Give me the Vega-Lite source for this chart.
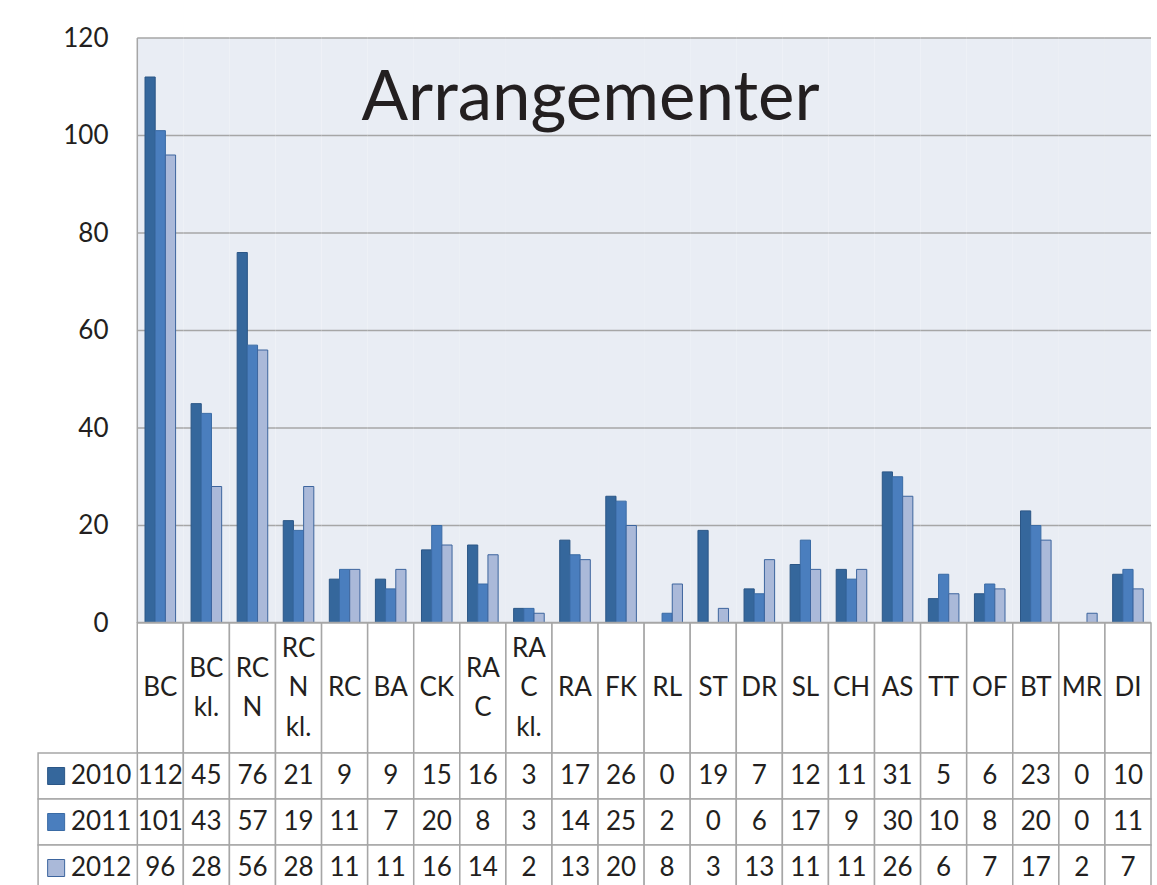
{
  "$schema": "https://vega.github.io/schema/vega-lite/v6.json",
  "padding": {"left": 37, "top": 25, "right": 0, "bottom": 0},
  "background": "white",
  "spacing": 0,
  "bounds": "flush",
  "config": {"view": {"stroke": null}, "font": "Lato"},
  "datasets": {
    "years": [{"year": "2010"}, {"year": "2011"}, {"year": "2012"}],
    "cats": [
      {"cat": "BC"}, {"cat": "BC kl."}, {"cat": "RC N"}, {"cat": "RC N kl."}, {"cat": "RC"}, {"cat": "BA"},
      {"cat": "CK"}, {"cat": "RA C"}, {"cat": "RA C kl."}, {"cat": "RA"}, {"cat": "FK"}, {"cat": "RL"},
      {"cat": "ST"}, {"cat": "DR"}, {"cat": "SL"}, {"cat": "CH"}, {"cat": "AS"}, {"cat": "TT"},
      {"cat": "OF"}, {"cat": "BT"}, {"cat": "MR"}, {"cat": "DI"}
    ],
    "vals": [
      {"cat": "BC", "year": "2010", "value": 112}, {"cat": "BC", "year": "2011", "value": 101}, {"cat": "BC", "year": "2012", "value": 96},
      {"cat": "BC kl.", "year": "2010", "value": 45}, {"cat": "BC kl.", "year": "2011", "value": 43}, {"cat": "BC kl.", "year": "2012", "value": 28},
      {"cat": "RC N", "year": "2010", "value": 76}, {"cat": "RC N", "year": "2011", "value": 57}, {"cat": "RC N", "year": "2012", "value": 56},
      {"cat": "RC N kl.", "year": "2010", "value": 21}, {"cat": "RC N kl.", "year": "2011", "value": 19}, {"cat": "RC N kl.", "year": "2012", "value": 28},
      {"cat": "RC", "year": "2010", "value": 9}, {"cat": "RC", "year": "2011", "value": 11}, {"cat": "RC", "year": "2012", "value": 11},
      {"cat": "BA", "year": "2010", "value": 9}, {"cat": "BA", "year": "2011", "value": 7}, {"cat": "BA", "year": "2012", "value": 11},
      {"cat": "CK", "year": "2010", "value": 15}, {"cat": "CK", "year": "2011", "value": 20}, {"cat": "CK", "year": "2012", "value": 16},
      {"cat": "RA C", "year": "2010", "value": 16}, {"cat": "RA C", "year": "2011", "value": 8}, {"cat": "RA C", "year": "2012", "value": 14},
      {"cat": "RA C kl.", "year": "2010", "value": 3}, {"cat": "RA C kl.", "year": "2011", "value": 3}, {"cat": "RA C kl.", "year": "2012", "value": 2},
      {"cat": "RA", "year": "2010", "value": 17}, {"cat": "RA", "year": "2011", "value": 14}, {"cat": "RA", "year": "2012", "value": 13},
      {"cat": "FK", "year": "2010", "value": 26}, {"cat": "FK", "year": "2011", "value": 25}, {"cat": "FK", "year": "2012", "value": 20},
      {"cat": "RL", "year": "2010", "value": 0}, {"cat": "RL", "year": "2011", "value": 2}, {"cat": "RL", "year": "2012", "value": 8},
      {"cat": "ST", "year": "2010", "value": 19}, {"cat": "ST", "year": "2011", "value": 0}, {"cat": "ST", "year": "2012", "value": 3},
      {"cat": "DR", "year": "2010", "value": 7}, {"cat": "DR", "year": "2011", "value": 6}, {"cat": "DR", "year": "2012", "value": 13},
      {"cat": "SL", "year": "2010", "value": 12}, {"cat": "SL", "year": "2011", "value": 17}, {"cat": "SL", "year": "2012", "value": 11},
      {"cat": "CH", "year": "2010", "value": 11}, {"cat": "CH", "year": "2011", "value": 9}, {"cat": "CH", "year": "2012", "value": 11},
      {"cat": "AS", "year": "2010", "value": 31}, {"cat": "AS", "year": "2011", "value": 30}, {"cat": "AS", "year": "2012", "value": 26},
      {"cat": "TT", "year": "2010", "value": 5}, {"cat": "TT", "year": "2011", "value": 10}, {"cat": "TT", "year": "2012", "value": 6},
      {"cat": "OF", "year": "2010", "value": 6}, {"cat": "OF", "year": "2011", "value": 8}, {"cat": "OF", "year": "2012", "value": 7},
      {"cat": "BT", "year": "2010", "value": 23}, {"cat": "BT", "year": "2011", "value": 20}, {"cat": "BT", "year": "2012", "value": 17},
      {"cat": "MR", "year": "2010", "value": 0}, {"cat": "MR", "year": "2011", "value": 0}, {"cat": "MR", "year": "2012", "value": 2},
      {"cat": "DI", "year": "2010", "value": 10}, {"cat": "DI", "year": "2011", "value": 11}, {"cat": "DI", "year": "2012", "value": 7}
    ]
  },
  "vconcat": [
    {
      "width": 1113,
      "height": 585,
      "title": {"text": "Arrangementer", "fontSize": 69, "font": "Lato", "fontWeight": "normal", "color": "#231f20", "anchor": "middle", "frame": "group", "offset": -164, "baseline": "alphabetic", "dx": -4},
      "layer": [
        {
          "data": {"name": "cats"},
          "mark": {"type": "rect", "fill": "#e9edf4"},
          "encoding": {
            "x": {"field": "cat", "type": "nominal", "axis": null,
                  "scale": {"domain": ["_a", "_b", "BC", "BC kl.", "RC N", "RC N kl.", "RC", "BA", "CK", "RA C", "RA C kl.", "RA", "FK", "RL", "ST", "DR", "SL", "CH", "AS", "TT", "OF", "BT", "MR", "DI"], "paddingInner": 0, "paddingOuter": 0.077, "align": 1}},
            "y": {"datum": 0, "type": "quantitative", "scale": {"domain": [0, 120], "nice": false}},
            "y2": {"datum": 120}
          }
        },
        {"data": {"name": "cats"}, "mark": {"type": "rect", "fill": null, "stroke": "#a6a6a6", "strokeWidth": 1.5}, "encoding": {"x": {"field": "cat", "type": "nominal"}, "y": {"datum": 20, "type": "quantitative"}, "y2": {"datum": 20}}},
        {"data": {"name": "cats"}, "mark": {"type": "rect", "fill": null, "stroke": "#a6a6a6", "strokeWidth": 1.5}, "encoding": {"x": {"field": "cat", "type": "nominal"}, "y": {"datum": 40, "type": "quantitative"}, "y2": {"datum": 40}}},
        {"data": {"name": "cats"}, "mark": {"type": "rect", "fill": null, "stroke": "#a6a6a6", "strokeWidth": 1.5}, "encoding": {"x": {"field": "cat", "type": "nominal"}, "y": {"datum": 60, "type": "quantitative"}, "y2": {"datum": 60}}},
        {"data": {"name": "cats"}, "mark": {"type": "rect", "fill": null, "stroke": "#a6a6a6", "strokeWidth": 1.5}, "encoding": {"x": {"field": "cat", "type": "nominal"}, "y": {"datum": 80, "type": "quantitative"}, "y2": {"datum": 80}}},
        {"data": {"name": "cats"}, "mark": {"type": "rect", "fill": null, "stroke": "#a6a6a6", "strokeWidth": 1.5}, "encoding": {"x": {"field": "cat", "type": "nominal"}, "y": {"datum": 100, "type": "quantitative"}, "y2": {"datum": 100}}},
        {"data": {"name": "cats"}, "mark": {"type": "rect", "fill": null, "stroke": "#a6a6a6", "strokeWidth": 1.5}, "encoding": {"x": {"field": "cat", "type": "nominal"}, "y": {"datum": 120, "type": "quantitative"}, "y2": {"datum": 120}}},
        {
          "data": {"name": "vals"},
          "mark": {"type": "bar", "strokeWidth": 1},
          "encoding": {
            "x": {"field": "cat", "type": "nominal"},
            "xOffset": {"field": "year", "type": "nominal", "scale": {"domain": ["2010", "2011", "2012"], "paddingInner": 0, "paddingOuter": 0.76}},
            "y": {"field": "value", "type": "quantitative",
                  "axis": {"values": [0, 20, 40, 60, 80, 100, 120], "grid": false, "ticks": false, "domain": false, "labelPadding": 0, "offset": -70, "labelFontSize": 26, "labelFont": "Lato", "labelColor": "#231f20", "title": null}},
            "fill": {"field": "year", "type": "nominal", "scale": {"domain": ["2010", "2011", "2012"], "range": ["#35679c", "#4a7ebe", "#aab9d9"]}, "legend": null},
            "stroke": {"field": "year", "type": "nominal", "scale": {"domain": ["2010", "2011", "2012"], "range": ["#2b5686", "#3a6ba5", "#3d659e"]}, "legend": null}
          }
        },
        {"data": {"name": "cats"}, "mark": {"type": "rect", "fill": null, "stroke": "#a6a6a6", "strokeWidth": 2.5}, "encoding": {"x": {"field": "cat", "type": "nominal"}, "y": {"datum": 0, "type": "quantitative"}, "y2": {"datum": 0}}},
        {
          "data": {"name": "years"},
          "transform": [{"filter": "datum.year == '2010'"}],
          "mark": {"type": "rule", "color": "#a6a6a6", "strokeWidth": 1.5, "xOffset": -23},
          "encoding": {"x": {"datum": "BC", "type": "nominal"}, "y": {"datum": 0, "type": "quantitative"}, "y2": {"datum": 120}}
        }
      ]
    },
    {
      "width": 1113,
      "height": 130,
      "data": {"name": "cats"},
      "layer": [
        {
          "mark": {"type": "rect", "fill": "white", "stroke": "#a6a6a6", "strokeWidth": 1.5},
          "encoding": {
            "x": {"field": "cat", "type": "nominal", "axis": null,
                  "scale": {"domain": ["_a", "_b", "BC", "BC kl.", "RC N", "RC N kl.", "RC", "BA", "CK", "RA C", "RA C kl.", "RA", "FK", "RL", "ST", "DR", "SL", "CH", "AS", "TT", "OF", "BT", "MR", "DI"], "paddingInner": 0, "paddingOuter": 0.077, "align": 1}}
          }
        },
        {
          "transform": [{"filter": "length(split(datum.cat, ' ')) == 1"}],
          "mark": {"type": "text", "fontSize": 26, "font": "Lato", "lineBreak": " ", "lineHeight": 39.5, "color": "#231f20", "baseline": "middle"},
          "encoding": {"x": {"field": "cat", "type": "nominal"}, "text": {"field": "cat", "type": "nominal"}}
        },
        {
          "transform": [{"filter": "length(split(datum.cat, ' ')) == 2"}],
          "mark": {"type": "text", "fontSize": 26, "font": "Lato", "lineBreak": " ", "lineHeight": 39.5, "color": "#231f20", "baseline": "middle", "dy": -19.5},
          "encoding": {"x": {"field": "cat", "type": "nominal"}, "text": {"field": "cat", "type": "nominal"}}
        },
        {
          "transform": [{"filter": "length(split(datum.cat, ' ')) == 3"}],
          "mark": {"type": "text", "fontSize": 26, "font": "Lato", "lineBreak": " ", "lineHeight": 39.5, "color": "#231f20", "baseline": "middle", "dy": -39.5},
          "encoding": {"x": {"field": "cat", "type": "nominal"}, "text": {"field": "cat", "type": "nominal"}}
        }
      ]
    },
    {
      "width": 1113,
      "height": 138,
      "layer": [
        {
          "data": {"name": "vals"},
          "mark": {"type": "rect", "fill": "white", "stroke": "#a6a6a6", "strokeWidth": 1.5},
          "encoding": {
            "x": {"field": "cat", "type": "nominal", "axis": null,
                  "scale": {"domain": ["_a", "_b", "BC", "BC kl.", "RC N", "RC N kl.", "RC", "BA", "CK", "RA C", "RA C kl.", "RA", "FK", "RL", "ST", "DR", "SL", "CH", "AS", "TT", "OF", "BT", "MR", "DI"], "paddingInner": 0, "paddingOuter": 0.077, "align": 1}},
            "y": {"field": "year", "type": "nominal", "axis": null, "scale": {"domain": ["2010", "2011", "2012"], "paddingInner": 0, "paddingOuter": 0}}
          }
        },
        {
          "data": {"name": "years"},
          "mark": {"type": "rect", "fill": "white", "stroke": "#a6a6a6", "strokeWidth": 1.5, "width": {"band": 2.154}, "xOffset": -26.5},
          "encoding": {
            "x": {"datum": "_b", "type": "nominal"},
            "y": {"field": "year", "type": "nominal"}
          }
        },
        {
          "data": {"name": "vals"},
          "mark": {"type": "text", "fontSize": 26, "font": "Lato", "color": "#231f20", "baseline": "middle"},
          "encoding": {
            "x": {"field": "cat", "type": "nominal"},
            "y": {"field": "year", "type": "nominal"},
            "text": {"field": "value", "type": "quantitative"}
          }
        },
        {
          "data": {"name": "years"},
          "mark": {"type": "point", "shape": "square", "filled": true, "size": 289, "opacity": 1, "strokeWidth": 1, "xOffset": -12},
          "encoding": {
            "x": {"datum": "_a", "type": "nominal"},
            "y": {"field": "year", "type": "nominal"},
            "fill": {"field": "year", "type": "nominal", "legend": null},
            "stroke": {"field": "year", "type": "nominal", "legend": null}
          }
        },
        {
          "data": {"name": "years"},
          "mark": {"type": "text", "fontSize": 26, "font": "Lato", "align": "right", "dx": 17, "color": "#231f20", "baseline": "middle"},
          "encoding": {
            "x": {"datum": "_b", "type": "nominal"},
            "y": {"field": "year", "type": "nominal"},
            "text": {"field": "year", "type": "nominal"}
          }
        }
      ]
    }
  ]
}
